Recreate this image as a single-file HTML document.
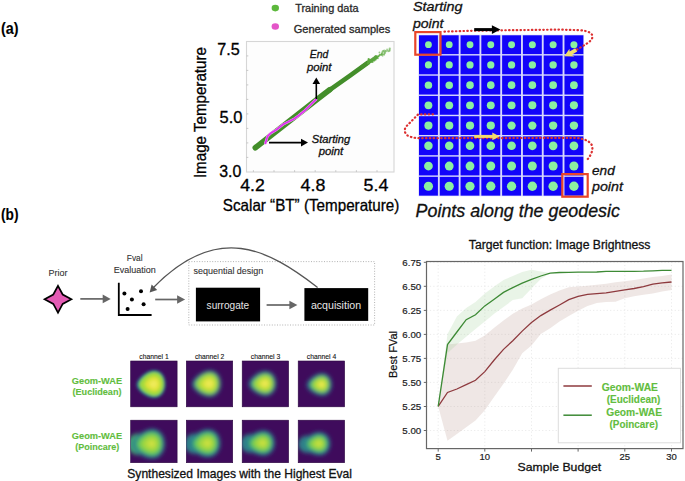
<!DOCTYPE html><html><head><meta charset="utf-8"><style>html,body{margin:0;padding:0;background:#fff;}svg{display:block;}text{font-family:"Liberation Sans", sans-serif;}</style></head><body>
<svg width="685" height="481" viewBox="0 0 685 481">
<defs>
<filter id="b06" x="-50%" y="-50%" width="200%" height="200%"><feGaussianBlur stdDeviation="0.75"/></filter>
<filter id="b1" x="-50%" y="-50%" width="200%" height="200%"><feGaussianBlur stdDeviation="1.8"/></filter>
<filter id="b2" x="-50%" y="-50%" width="200%" height="200%"><feGaussianBlur stdDeviation="2.2"/></filter>
<radialGradient id="dot"><stop offset="0" stop-color="#a8fca8"/><stop offset="0.55" stop-color="#86eea0"/><stop offset="0.85" stop-color="#5aa8d8"/><stop offset="1" stop-color="#1a1aff" stop-opacity="0"/></radialGradient>
<radialGradient id="blob" cx="0.5" cy="0.5" r="0.5"><stop offset="0" stop-color="#ecec48"/><stop offset="0.55" stop-color="#c8e040"/><stop offset="0.85" stop-color="#70cc5c"/><stop offset="1" stop-color="#3fb070"/></radialGradient>
<marker id="ah" viewBox="0 0 10 10" refX="8" refY="5" markerWidth="6" markerHeight="6" orient="auto"><path d="M0,0 L10,5 L0,10 z" fill="#000"/></marker>
</defs>
<text x="1" y="34.2" font-size="16" fill="#000" stroke="#000" stroke-width="0.12" font-weight="bold" font-style="normal" text-anchor="start" textLength="17.5" lengthAdjust="spacingAndGlyphs" >(a)</text>
<text x="1" y="220" font-size="16" fill="#000" stroke="#000" stroke-width="0.12" font-weight="bold" font-style="normal" text-anchor="start" textLength="17.5" lengthAdjust="spacingAndGlyphs" >(b)</text>
<ellipse cx="275.3" cy="8.1" rx="3.7" ry="3.3" fill="#5cb83c"/>
<ellipse cx="275.3" cy="26.5" rx="3.7" ry="3.3" fill="#e455c8"/>
<text x="295.2" y="11.6" font-size="10.5" fill="#2a2a2a" stroke="#2a2a2a" stroke-width="0.3" font-weight="normal" font-style="normal" text-anchor="start" textLength="63.3" lengthAdjust="spacingAndGlyphs" >Training data</text>
<text x="293.7" y="32.5" font-size="10.5" fill="#2a2a2a" stroke="#2a2a2a" stroke-width="0.3" font-weight="normal" font-style="normal" text-anchor="start" textLength="96.5" lengthAdjust="spacingAndGlyphs" >Generated samples</text>
<rect x="246.5" y="41.5" width="147.5" height="130.5" fill="#fdfdfd" stroke="#d6d6d6" stroke-width="1.1"/>
<line x1="246.5" y1="55.9" x2="248.3" y2="55.9" stroke="#bbb" stroke-width="0.8"/>
<line x1="246.5" y1="70.4" x2="248.3" y2="70.4" stroke="#bbb" stroke-width="0.8"/>
<line x1="246.5" y1="84.9" x2="248.3" y2="84.9" stroke="#bbb" stroke-width="0.8"/>
<line x1="246.5" y1="99.4" x2="248.3" y2="99.4" stroke="#bbb" stroke-width="0.8"/>
<line x1="246.5" y1="113.9" x2="248.3" y2="113.9" stroke="#bbb" stroke-width="0.8"/>
<line x1="246.5" y1="128.4" x2="248.3" y2="128.4" stroke="#bbb" stroke-width="0.8"/>
<line x1="246.5" y1="142.9" x2="248.3" y2="142.9" stroke="#bbb" stroke-width="0.8"/>
<line x1="246.5" y1="157.4" x2="248.3" y2="157.4" stroke="#bbb" stroke-width="0.8"/>
<line x1="253.4" y1="171.9" x2="253.4" y2="170.2" stroke="#bbb" stroke-width="0.8"/>
<line x1="274" y1="171.9" x2="274" y2="170.2" stroke="#bbb" stroke-width="0.8"/>
<line x1="294.6" y1="171.9" x2="294.6" y2="170.2" stroke="#bbb" stroke-width="0.8"/>
<line x1="315.2" y1="171.9" x2="315.2" y2="170.2" stroke="#bbb" stroke-width="0.8"/>
<line x1="335.8" y1="171.9" x2="335.8" y2="170.2" stroke="#bbb" stroke-width="0.8"/>
<line x1="356.4" y1="171.9" x2="356.4" y2="170.2" stroke="#bbb" stroke-width="0.8"/>
<line x1="377" y1="171.9" x2="377" y2="170.2" stroke="#bbb" stroke-width="0.8"/>
<text x="228.5" y="54.7" font-size="16.5" fill="#000" stroke="#000" stroke-width="0.3" font-weight="normal" font-style="normal" text-anchor="middle" textLength="22.5" lengthAdjust="spacingAndGlyphs" >7.5</text>
<text x="231" y="123.2" font-size="16.5" fill="#000" stroke="#000" stroke-width="0.3" font-weight="normal" font-style="normal" text-anchor="middle" textLength="22.9" lengthAdjust="spacingAndGlyphs" >5.0</text>
<text x="230.2" y="176.5" font-size="16.5" fill="#000" stroke="#000" stroke-width="0.3" font-weight="normal" font-style="normal" text-anchor="middle" textLength="22.1" lengthAdjust="spacingAndGlyphs" >3.0</text>
<text x="252.5" y="191.1" font-size="16.5" fill="#000" stroke="#000" stroke-width="0.3" font-weight="normal" font-style="normal" text-anchor="middle" textLength="24.5" lengthAdjust="spacingAndGlyphs" >4.2</text>
<text x="313" y="191.1" font-size="16.5" fill="#000" stroke="#000" stroke-width="0.3" font-weight="normal" font-style="normal" text-anchor="middle" textLength="24.8" lengthAdjust="spacingAndGlyphs" >4.8</text>
<text x="376" y="191.1" font-size="16.5" fill="#000" stroke="#000" stroke-width="0.3" font-weight="normal" font-style="normal" text-anchor="middle" textLength="24.8" lengthAdjust="spacingAndGlyphs" >5.4</text>
<text x="222.8" y="211.1" font-size="16.5" fill="#000" stroke="#000" stroke-width="0.3" font-weight="normal" font-style="normal" text-anchor="start" textLength="176.6" lengthAdjust="spacingAndGlyphs" >Scalar “BT” (Temperature)</text>
<text x="0" y="0" font-size="16" text-anchor="start" textLength="131" lengthAdjust="spacingAndGlyphs" stroke="#000" stroke-width="0.3" transform="translate(206.4,178.1) rotate(-90)">Image Temperature</text>
<path d="M255.3,147.7 L285,124.5 L316,100.2 L330,89.6" stroke="#438e2a" stroke-width="5.6" stroke-linecap="round" stroke-linejoin="round" fill="none"/>
<path d="M328,91.1 L350,75.6 L368,62.6" stroke="#438e2a" stroke-width="4.6" stroke-linecap="round" stroke-linejoin="round" fill="none"/>
<path d="M362,66.8 L376,57.2" stroke="#4a922e" stroke-width="3.6" stroke-linecap="round" fill="none" opacity="0.85"/>
<circle cx="381.7" cy="54.3" r="1.2" fill="#5aa83c" opacity="0.54"/>
<circle cx="384.3" cy="50.6" r="1.2" fill="#5aa83c" opacity="0.48"/>
<circle cx="368.6" cy="59.1" r="1.0" fill="#5aa83c" opacity="0.84"/>
<circle cx="387.8" cy="51.5" r="0.7" fill="#5aa83c" opacity="0.40"/>
<circle cx="378.3" cy="56.4" r="0.9" fill="#5aa83c" opacity="0.62"/>
<circle cx="368.3" cy="64.0" r="0.7" fill="#5aa83c" opacity="0.84"/>
<circle cx="374.1" cy="60.8" r="0.7" fill="#5aa83c" opacity="0.71"/>
<circle cx="385.5" cy="51.0" r="0.7" fill="#5aa83c" opacity="0.45"/>
<circle cx="381.6" cy="54.5" r="1.1" fill="#5aa83c" opacity="0.54"/>
<circle cx="372.6" cy="59.8" r="0.7" fill="#5aa83c" opacity="0.75"/>
<circle cx="389.6" cy="50.5" r="1.2" fill="#5aa83c" opacity="0.36"/>
<circle cx="379.9" cy="54.7" r="1.0" fill="#5aa83c" opacity="0.58"/>
<circle cx="372.5" cy="61.7" r="1.2" fill="#5aa83c" opacity="0.75"/>
<circle cx="387.7" cy="50.2" r="0.8" fill="#5aa83c" opacity="0.40"/>
<circle cx="375.9" cy="58.2" r="0.6" fill="#5aa83c" opacity="0.67"/>
<circle cx="374.6" cy="59.2" r="1.0" fill="#5aa83c" opacity="0.70"/>
<circle cx="368.1" cy="61.9" r="0.8" fill="#5aa83c" opacity="0.85"/>
<circle cx="386.0" cy="50.8" r="0.9" fill="#5aa83c" opacity="0.44"/>
<circle cx="374.9" cy="56.4" r="0.6" fill="#5aa83c" opacity="0.69"/>
<circle cx="389.5" cy="50.1" r="0.6" fill="#5aa83c" opacity="0.36"/>
<circle cx="384.5" cy="52.9" r="1.1" fill="#5aa83c" opacity="0.48"/>
<circle cx="376.1" cy="57.5" r="0.9" fill="#5aa83c" opacity="0.67"/>
<circle cx="368.2" cy="63.2" r="1.2" fill="#5aa83c" opacity="0.85"/>
<circle cx="372.3" cy="60.2" r="1.1" fill="#5aa83c" opacity="0.75"/>
<circle cx="388.5" cy="51.5" r="0.8" fill="#5aa83c" opacity="0.39"/>
<circle cx="379.5" cy="55.3" r="1.1" fill="#5aa83c" opacity="0.59"/>
<circle cx="370.4" cy="61.1" r="1.1" fill="#5aa83c" opacity="0.80"/>
<circle cx="368.8" cy="59.7" r="1.2" fill="#5aa83c" opacity="0.83"/>
<circle cx="370.0" cy="60.4" r="1.2" fill="#5aa83c" opacity="0.80"/>
<circle cx="375.5" cy="59.6" r="1.2" fill="#5aa83c" opacity="0.68"/>
<circle cx="380.0" cy="55.0" r="0.7" fill="#5aa83c" opacity="0.58"/>
<circle cx="369.7" cy="62.5" r="0.7" fill="#5aa83c" opacity="0.81"/>
<circle cx="383.2" cy="54.3" r="0.6" fill="#5aa83c" opacity="0.51"/>
<circle cx="389.7" cy="49.7" r="0.9" fill="#5aa83c" opacity="0.36"/>
<circle cx="376.9" cy="57.4" r="1.1" fill="#5aa83c" opacity="0.65"/>
<circle cx="378.0" cy="58.3" r="0.9" fill="#5aa83c" opacity="0.62"/>
<circle cx="369.2" cy="62.1" r="0.9" fill="#5aa83c" opacity="0.82"/>
<circle cx="386.4" cy="51.4" r="0.7" fill="#5aa83c" opacity="0.43"/>
<circle cx="384.1" cy="54.7" r="1.1" fill="#5aa83c" opacity="0.48"/>
<circle cx="370.3" cy="60.5" r="0.9" fill="#5aa83c" opacity="0.80"/>
<circle cx="371.3" cy="61.2" r="0.9" fill="#5aa83c" opacity="0.78"/>
<circle cx="390.0" cy="48.6" r="1.1" fill="#5aa83c" opacity="0.35"/>
<circle cx="389.5" cy="48.4" r="1.0" fill="#5aa83c" opacity="0.36"/>
<circle cx="378.5" cy="56.7" r="0.8" fill="#5aa83c" opacity="0.61"/>
<circle cx="376.9" cy="58.0" r="1.2" fill="#5aa83c" opacity="0.65"/>
<circle cx="389.1" cy="51.0" r="1.0" fill="#5aa83c" opacity="0.37"/>
<circle cx="379.0" cy="55.7" r="0.8" fill="#5aa83c" opacity="0.60"/>
<circle cx="385.2" cy="52.8" r="1.1" fill="#5aa83c" opacity="0.46"/>
<circle cx="375.9" cy="58.3" r="1.0" fill="#5aa83c" opacity="0.67"/>
<circle cx="382.6" cy="51.7" r="1.1" fill="#5aa83c" opacity="0.52"/>
<circle cx="376.0" cy="57.5" r="0.9" fill="#5aa83c" opacity="0.67"/>
<circle cx="384.9" cy="51.5" r="1.0" fill="#5aa83c" opacity="0.47"/>
<circle cx="374.5" cy="60.5" r="0.9" fill="#5aa83c" opacity="0.70"/>
<circle cx="368.3" cy="61.7" r="0.9" fill="#5aa83c" opacity="0.84"/>
<circle cx="373.5" cy="58.6" r="1.1" fill="#5aa83c" opacity="0.72"/>
<circle cx="382.2" cy="52.8" r="1.1" fill="#5aa83c" opacity="0.53"/>
<circle cx="375.7" cy="56.7" r="1.1" fill="#5aa83c" opacity="0.68"/>
<circle cx="375.7" cy="56.3" r="1.1" fill="#5aa83c" opacity="0.67"/>
<circle cx="387.1" cy="49.8" r="1.2" fill="#5aa83c" opacity="0.42"/>
<circle cx="379.4" cy="52.5" r="0.9" fill="#5aa83c" opacity="0.59"/>
<circle cx="371.7" cy="61.9" r="0.9" fill="#5aa83c" opacity="0.77"/>
<circle cx="383.2" cy="50.9" r="1.0" fill="#5aa83c" opacity="0.50"/>
<circle cx="384.1" cy="54.1" r="0.9" fill="#5aa83c" opacity="0.48"/>
<circle cx="382.6" cy="55.8" r="0.9" fill="#5aa83c" opacity="0.52"/>
<circle cx="381.7" cy="54.7" r="1.0" fill="#5aa83c" opacity="0.54"/>
<circle cx="368.6" cy="60.3" r="0.7" fill="#5aa83c" opacity="0.84"/>
<circle cx="377.7" cy="56.2" r="1.0" fill="#5aa83c" opacity="0.63"/>
<circle cx="381.9" cy="53.6" r="0.6" fill="#5aa83c" opacity="0.53"/>
<circle cx="378.4" cy="56.4" r="0.7" fill="#5aa83c" opacity="0.61"/>
<circle cx="375.0" cy="58.8" r="0.7" fill="#5aa83c" opacity="0.69"/>
<path d="M265.4,143.2 L267.5,136.4 L270.6,133.3 L275.8,130.2 L283.1,124.4 L289.3,121.3 L293.5,119.2 L298.7,115.6 L304.9,110.4 L313.2,102.1 L316,99.5" stroke="#f2a8f2" stroke-width="2.6" fill="none" stroke-linejoin="round" stroke-linecap="round"/>
<path d="M265.4,143.2 L267.5,136.4 L270.6,133.3 L275.8,130.2 L283.1,124.4 L289.3,121.3 L293.5,119.2 L298.7,115.6 L304.9,110.4 L313.2,102.1 L316,99.5" stroke="#dd33ee" stroke-width="1.8" fill="none" stroke-linejoin="round" stroke-linecap="round"/>
<line x1="316.3" y1="99" x2="316.3" y2="83" stroke="#000" stroke-width="1.6"/>
<path d="M312.5,84 L316.3,77.5 L320.1,84 z" fill="#000"/>
<line x1="269" y1="142.6" x2="302" y2="142.6" stroke="#000" stroke-width="1.6"/>
<path d="M301,138.8 L308,142.6 L301,146.4 z" fill="#000"/>
<text x="319" y="57.8" font-size="10.5" fill="#111" stroke="#111" stroke-width="0.3" font-weight="normal" font-style="italic" text-anchor="middle" textLength="18.5" lengthAdjust="spacingAndGlyphs" >End</text>
<text x="319.2" y="70.7" font-size="10.5" fill="#111" stroke="#111" stroke-width="0.3" font-weight="normal" font-style="italic" text-anchor="middle" textLength="24.6" lengthAdjust="spacingAndGlyphs" >point</text>
<text x="311.8" y="143.4" font-size="10.5" fill="#111" stroke="#111" stroke-width="0.3" font-weight="normal" font-style="italic" text-anchor="start" textLength="38.4" lengthAdjust="spacingAndGlyphs" >Starting</text>
<text x="318.7" y="155.2" font-size="10.5" fill="#111" stroke="#111" stroke-width="0.3" font-weight="normal" font-style="italic" text-anchor="start" textLength="24.6" lengthAdjust="spacingAndGlyphs" >point</text>
<rect x="418.4" y="34.699999999999996" width="165.56" height="161.54" fill="#d8d8fc"/>
<rect x="419.00" y="35.30" width="18.9" height="18.8" fill="#1204fa"/>
<rect x="439.78" y="35.30" width="18.9" height="18.8" fill="#1204fa"/>
<rect x="460.56" y="35.30" width="18.9" height="18.8" fill="#1204fa"/>
<rect x="481.34" y="35.30" width="18.9" height="18.8" fill="#1204fa"/>
<rect x="502.12" y="35.30" width="18.9" height="18.8" fill="#1204fa"/>
<rect x="522.90" y="35.30" width="18.9" height="18.8" fill="#1204fa"/>
<rect x="543.68" y="35.30" width="18.9" height="18.8" fill="#1204fa"/>
<rect x="564.46" y="35.30" width="18.9" height="18.8" fill="#1204fa"/>
<rect x="419.00" y="55.52" width="18.9" height="18.8" fill="#1204fa"/>
<rect x="439.78" y="55.52" width="18.9" height="18.8" fill="#1204fa"/>
<rect x="460.56" y="55.52" width="18.9" height="18.8" fill="#1204fa"/>
<rect x="481.34" y="55.52" width="18.9" height="18.8" fill="#1204fa"/>
<rect x="502.12" y="55.52" width="18.9" height="18.8" fill="#1204fa"/>
<rect x="522.90" y="55.52" width="18.9" height="18.8" fill="#1204fa"/>
<rect x="543.68" y="55.52" width="18.9" height="18.8" fill="#1204fa"/>
<rect x="564.46" y="55.52" width="18.9" height="18.8" fill="#1204fa"/>
<rect x="419.00" y="75.74" width="18.9" height="18.8" fill="#1204fa"/>
<rect x="439.78" y="75.74" width="18.9" height="18.8" fill="#1204fa"/>
<rect x="460.56" y="75.74" width="18.9" height="18.8" fill="#1204fa"/>
<rect x="481.34" y="75.74" width="18.9" height="18.8" fill="#1204fa"/>
<rect x="502.12" y="75.74" width="18.9" height="18.8" fill="#1204fa"/>
<rect x="522.90" y="75.74" width="18.9" height="18.8" fill="#1204fa"/>
<rect x="543.68" y="75.74" width="18.9" height="18.8" fill="#1204fa"/>
<rect x="564.46" y="75.74" width="18.9" height="18.8" fill="#1204fa"/>
<rect x="419.00" y="95.96" width="18.9" height="18.8" fill="#1204fa"/>
<rect x="439.78" y="95.96" width="18.9" height="18.8" fill="#1204fa"/>
<rect x="460.56" y="95.96" width="18.9" height="18.8" fill="#1204fa"/>
<rect x="481.34" y="95.96" width="18.9" height="18.8" fill="#1204fa"/>
<rect x="502.12" y="95.96" width="18.9" height="18.8" fill="#1204fa"/>
<rect x="522.90" y="95.96" width="18.9" height="18.8" fill="#1204fa"/>
<rect x="543.68" y="95.96" width="18.9" height="18.8" fill="#1204fa"/>
<rect x="564.46" y="95.96" width="18.9" height="18.8" fill="#1204fa"/>
<rect x="419.00" y="116.18" width="18.9" height="18.8" fill="#1204fa"/>
<rect x="439.78" y="116.18" width="18.9" height="18.8" fill="#1204fa"/>
<rect x="460.56" y="116.18" width="18.9" height="18.8" fill="#1204fa"/>
<rect x="481.34" y="116.18" width="18.9" height="18.8" fill="#1204fa"/>
<rect x="502.12" y="116.18" width="18.9" height="18.8" fill="#1204fa"/>
<rect x="522.90" y="116.18" width="18.9" height="18.8" fill="#1204fa"/>
<rect x="543.68" y="116.18" width="18.9" height="18.8" fill="#1204fa"/>
<rect x="564.46" y="116.18" width="18.9" height="18.8" fill="#1204fa"/>
<rect x="419.00" y="136.40" width="18.9" height="18.8" fill="#1204fa"/>
<rect x="439.78" y="136.40" width="18.9" height="18.8" fill="#1204fa"/>
<rect x="460.56" y="136.40" width="18.9" height="18.8" fill="#1204fa"/>
<rect x="481.34" y="136.40" width="18.9" height="18.8" fill="#1204fa"/>
<rect x="502.12" y="136.40" width="18.9" height="18.8" fill="#1204fa"/>
<rect x="522.90" y="136.40" width="18.9" height="18.8" fill="#1204fa"/>
<rect x="543.68" y="136.40" width="18.9" height="18.8" fill="#1204fa"/>
<rect x="564.46" y="136.40" width="18.9" height="18.8" fill="#1204fa"/>
<rect x="419.00" y="156.62" width="18.9" height="18.8" fill="#1204fa"/>
<rect x="439.78" y="156.62" width="18.9" height="18.8" fill="#1204fa"/>
<rect x="460.56" y="156.62" width="18.9" height="18.8" fill="#1204fa"/>
<rect x="481.34" y="156.62" width="18.9" height="18.8" fill="#1204fa"/>
<rect x="502.12" y="156.62" width="18.9" height="18.8" fill="#1204fa"/>
<rect x="522.90" y="156.62" width="18.9" height="18.8" fill="#1204fa"/>
<rect x="543.68" y="156.62" width="18.9" height="18.8" fill="#1204fa"/>
<rect x="564.46" y="156.62" width="18.9" height="18.8" fill="#1204fa"/>
<rect x="419.00" y="176.84" width="18.9" height="18.8" fill="#1204fa"/>
<rect x="439.78" y="176.84" width="18.9" height="18.8" fill="#1204fa"/>
<rect x="460.56" y="176.84" width="18.9" height="18.8" fill="#1204fa"/>
<rect x="481.34" y="176.84" width="18.9" height="18.8" fill="#1204fa"/>
<rect x="502.12" y="176.84" width="18.9" height="18.8" fill="#1204fa"/>
<rect x="522.90" y="176.84" width="18.9" height="18.8" fill="#1204fa"/>
<rect x="543.68" y="176.84" width="18.9" height="18.8" fill="#1204fa"/>
<rect x="564.46" y="176.84" width="18.9" height="18.8" fill="#1204fa"/>
<circle cx="428.45" cy="44.70" r="3.40" fill="#8cf0a0" filter="url(#b06)"/>
<circle cx="449.23" cy="44.70" r="3.42" fill="#8cf0a0" filter="url(#b06)"/>
<circle cx="470.01" cy="44.70" r="3.44" fill="#8cf0a0" filter="url(#b06)"/>
<circle cx="490.79" cy="44.70" r="3.46" fill="#8cf0a0" filter="url(#b06)"/>
<circle cx="511.57" cy="44.70" r="3.48" fill="#8cf0a0" filter="url(#b06)"/>
<circle cx="532.35" cy="44.70" r="3.50" fill="#8cf0a0" filter="url(#b06)"/>
<circle cx="553.13" cy="44.70" r="3.52" fill="#8cf0a0" filter="url(#b06)"/>
<circle cx="573.91" cy="44.70" r="3.54" fill="#8cf0a0" filter="url(#b06)"/>
<circle cx="428.45" cy="64.92" r="3.57" fill="#8cf0a0" filter="url(#b06)"/>
<circle cx="449.23" cy="64.92" r="3.59" fill="#8cf0a0" filter="url(#b06)"/>
<circle cx="470.01" cy="64.92" r="3.61" fill="#8cf0a0" filter="url(#b06)"/>
<circle cx="490.79" cy="64.92" r="3.63" fill="#8cf0a0" filter="url(#b06)"/>
<circle cx="511.57" cy="64.92" r="3.65" fill="#8cf0a0" filter="url(#b06)"/>
<circle cx="532.35" cy="64.92" r="3.67" fill="#8cf0a0" filter="url(#b06)"/>
<circle cx="553.13" cy="64.92" r="3.69" fill="#8cf0a0" filter="url(#b06)"/>
<circle cx="573.91" cy="64.92" r="3.71" fill="#8cf0a0" filter="url(#b06)"/>
<circle cx="428.45" cy="85.14" r="3.73" fill="#8cf0a0" filter="url(#b06)"/>
<circle cx="449.23" cy="85.14" r="3.75" fill="#8cf0a0" filter="url(#b06)"/>
<circle cx="470.01" cy="85.14" r="3.77" fill="#8cf0a0" filter="url(#b06)"/>
<circle cx="490.79" cy="85.14" r="3.79" fill="#8cf0a0" filter="url(#b06)"/>
<circle cx="511.57" cy="85.14" r="3.81" fill="#8cf0a0" filter="url(#b06)"/>
<circle cx="532.35" cy="85.14" r="3.83" fill="#8cf0a0" filter="url(#b06)"/>
<circle cx="553.13" cy="85.14" r="3.85" fill="#8cf0a0" filter="url(#b06)"/>
<circle cx="573.91" cy="85.14" r="3.87" fill="#8cf0a0" filter="url(#b06)"/>
<circle cx="428.45" cy="105.36" r="3.90" fill="#8cf0a0" filter="url(#b06)"/>
<circle cx="449.23" cy="105.36" r="3.92" fill="#8cf0a0" filter="url(#b06)"/>
<circle cx="470.01" cy="105.36" r="3.94" fill="#8cf0a0" filter="url(#b06)"/>
<circle cx="490.79" cy="105.36" r="3.96" fill="#8cf0a0" filter="url(#b06)"/>
<circle cx="511.57" cy="105.36" r="3.98" fill="#8cf0a0" filter="url(#b06)"/>
<circle cx="532.35" cy="105.36" r="4.00" fill="#8cf0a0" filter="url(#b06)"/>
<circle cx="553.13" cy="105.36" r="4.02" fill="#8cf0a0" filter="url(#b06)"/>
<circle cx="573.91" cy="105.36" r="4.04" fill="#8cf0a0" filter="url(#b06)"/>
<circle cx="428.45" cy="125.58" r="4.06" fill="#8cf0a0" filter="url(#b06)"/>
<circle cx="449.23" cy="125.58" r="4.08" fill="#8cf0a0" filter="url(#b06)"/>
<circle cx="470.01" cy="125.58" r="4.10" fill="#8cf0a0" filter="url(#b06)"/>
<circle cx="490.79" cy="125.58" r="4.12" fill="#8cf0a0" filter="url(#b06)"/>
<circle cx="511.57" cy="125.58" r="4.14" fill="#8cf0a0" filter="url(#b06)"/>
<circle cx="532.35" cy="125.58" r="4.16" fill="#8cf0a0" filter="url(#b06)"/>
<circle cx="553.13" cy="125.58" r="4.18" fill="#8cf0a0" filter="url(#b06)"/>
<circle cx="573.91" cy="125.58" r="4.20" fill="#8cf0a0" filter="url(#b06)"/>
<circle cx="428.45" cy="145.80" r="4.23" fill="#8cf0a0" filter="url(#b06)"/>
<circle cx="449.23" cy="145.80" r="4.25" fill="#8cf0a0" filter="url(#b06)"/>
<circle cx="470.01" cy="145.80" r="4.27" fill="#8cf0a0" filter="url(#b06)"/>
<circle cx="490.79" cy="145.80" r="4.29" fill="#8cf0a0" filter="url(#b06)"/>
<circle cx="511.57" cy="145.80" r="4.31" fill="#8cf0a0" filter="url(#b06)"/>
<circle cx="532.35" cy="145.80" r="4.33" fill="#8cf0a0" filter="url(#b06)"/>
<circle cx="553.13" cy="145.80" r="4.35" fill="#8cf0a0" filter="url(#b06)"/>
<circle cx="573.91" cy="145.80" r="4.37" fill="#8cf0a0" filter="url(#b06)"/>
<circle cx="428.45" cy="166.02" r="4.39" fill="#8cf0a0" filter="url(#b06)"/>
<circle cx="449.23" cy="166.02" r="4.41" fill="#8cf0a0" filter="url(#b06)"/>
<circle cx="470.01" cy="166.02" r="4.43" fill="#8cf0a0" filter="url(#b06)"/>
<circle cx="490.79" cy="166.02" r="4.45" fill="#8cf0a0" filter="url(#b06)"/>
<circle cx="511.57" cy="166.02" r="4.47" fill="#8cf0a0" filter="url(#b06)"/>
<circle cx="532.35" cy="166.02" r="4.49" fill="#8cf0a0" filter="url(#b06)"/>
<circle cx="553.13" cy="166.02" r="4.51" fill="#8cf0a0" filter="url(#b06)"/>
<circle cx="573.91" cy="166.02" r="4.53" fill="#8cf0a0" filter="url(#b06)"/>
<circle cx="428.45" cy="186.24" r="4.56" fill="#8cf0a0" filter="url(#b06)"/>
<circle cx="449.23" cy="186.24" r="4.58" fill="#8cf0a0" filter="url(#b06)"/>
<circle cx="470.01" cy="186.24" r="4.60" fill="#8cf0a0" filter="url(#b06)"/>
<circle cx="490.79" cy="186.24" r="4.62" fill="#8cf0a0" filter="url(#b06)"/>
<circle cx="511.57" cy="186.24" r="4.64" fill="#8cf0a0" filter="url(#b06)"/>
<circle cx="532.35" cy="186.24" r="4.66" fill="#8cf0a0" filter="url(#b06)"/>
<circle cx="553.13" cy="186.24" r="4.68" fill="#8cf0a0" filter="url(#b06)"/>
<circle cx="573.91" cy="186.24" r="4.70" fill="#8cf0a0" filter="url(#b06)"/>
<rect x="415.3" y="32.1" width="25.2" height="22.6" fill="none" stroke="#e8452a" stroke-width="2.2"/>
<rect x="562.3" y="174.1" width="25.4" height="22.6" fill="none" stroke="#e8452a" stroke-width="2.2"/>
<path d="M444.5,31.6 L470,30.8 L510,30.2 L560,29.6 L580,30.2 C589,31 593,33.5 592.4,37.3 C591.5,42 584,45 575.6,50.4" stroke="#dc3030" stroke-width="2.2" stroke-dasharray="0.5,3.3" stroke-linecap="round" fill="none"/>
<path d="M433,114.3 L418,114.5 L406.2,126.5 C403.5,130 404.5,135 410.5,136.8 C413,137.6 415.5,138 418.1,138.2 L576,137.9 C586,138.8 592.5,142.5 592.4,148 C592.3,153 589.5,157 587.3,159.6" stroke="#dc3030" stroke-width="2.2" stroke-dasharray="0.5,3.3" stroke-linecap="round" fill="none"/>
<line x1="474.2" y1="29.6" x2="493" y2="29.6" stroke="#000" stroke-width="3"/>
<path d="M491.9,25.2 L500.4,29.6 L491.9,34 z" fill="#000"/>
<line x1="474.2" y1="136.4" x2="493" y2="136.4" stroke="#f2dc6c" stroke-width="3"/>
<path d="M492.3,132.6 L499.6,136.4 L492.3,140.2 z" fill="#f2dc6c"/>
<path d="M564.3,56.2 L569.5,48.8 L569.6,51.6 L575.2,48.2 L577.2,51.6 L571.8,54.8 L574.2,56.4 z" fill="#f2dc6c"/>
<text x="412.9" y="11.4" font-size="13.5" fill="#111" stroke="#111" stroke-width="0.3" font-weight="normal" font-style="italic" text-anchor="start" textLength="49.6" lengthAdjust="spacingAndGlyphs" >Starting</text>
<text x="412.9" y="27.9" font-size="13.5" fill="#111" stroke="#111" stroke-width="0.3" font-weight="normal" font-style="italic" text-anchor="start" textLength="30.6" lengthAdjust="spacingAndGlyphs" >point</text>
<text x="592" y="174.9" font-size="13.5" fill="#111" stroke="#111" stroke-width="0.3" font-weight="normal" font-style="italic" text-anchor="start" textLength="22.7" lengthAdjust="spacingAndGlyphs" >end</text>
<text x="592" y="191.4" font-size="13.5" fill="#111" stroke="#111" stroke-width="0.3" font-weight="normal" font-style="italic" text-anchor="start" textLength="30.9" lengthAdjust="spacingAndGlyphs" >point</text>
<text x="415.6" y="216.7" font-size="17.6" fill="#111" stroke="#111" stroke-width="0.3" font-weight="normal" font-style="italic" text-anchor="start" textLength="204.3" lengthAdjust="spacingAndGlyphs" >Points along the geodesic</text>
<text x="48.5" y="276" font-size="9" fill="#333" stroke="#333" stroke-width="0.1" font-weight="normal" font-style="normal" text-anchor="start" textLength="18.9" lengthAdjust="spacingAndGlyphs" >Prior</text>
<path d="M58,285.8 L62.7,294.5 L71.4,299.2 L62.7,303.9 L58,312.59999999999997 L53.3,303.9 L44.6,299.2 L53.3,294.5 z" fill="#e35bb4" stroke="#000" stroke-width="1.7" stroke-linejoin="miter" stroke-miterlimit="10"/>
<line x1="80.3" y1="298.9" x2="104.7" y2="298.9" stroke="#666" stroke-width="1.7"/>
<path d="M102.7,294.59999999999997 L110.7,298.9 L102.7,303.2 z" fill="#666"/>
<line x1="155.2" y1="299.5" x2="179.1" y2="299.5" stroke="#666" stroke-width="1.7"/>
<path d="M177.1,295.2 L185.1,299.5 L177.1,303.8 z" fill="#666"/>
<line x1="266.6" y1="305" x2="291.4" y2="305" stroke="#666" stroke-width="1.7"/>
<path d="M289.4,300.7 L297.4,305 L289.4,309.3 z" fill="#666"/>
<text x="134.7" y="260.9" font-size="9" fill="#333" stroke="#333" stroke-width="0.1" font-weight="normal" font-style="normal" text-anchor="middle" textLength="15.8" lengthAdjust="spacingAndGlyphs" >Fval</text>
<text x="134.7" y="272.6" font-size="9" fill="#333" stroke="#333" stroke-width="0.1" font-weight="normal" font-style="normal" text-anchor="middle" textLength="42" lengthAdjust="spacingAndGlyphs" >Evaluation</text>
<path d="M118.8,282.8 L118.8,315 L151.6,315" stroke="#000" stroke-width="1.8" fill="none"/>
<circle cx="124.4" cy="293.4" r="2.0" fill="#000"/>
<circle cx="141" cy="291.2" r="2.0" fill="#000"/>
<circle cx="131.9" cy="299.5" r="2.0" fill="#000"/>
<circle cx="143.6" cy="304.2" r="2.0" fill="#000"/>
<circle cx="127.6" cy="309" r="2.0" fill="#000"/>
<rect x="188.8" y="261.6" width="185.8" height="63.4" fill="none" stroke="#aaa" stroke-width="0.9" stroke-dasharray="1,1.6"/>
<text x="193.5" y="274" font-size="9.3" fill="#333" stroke="#333" stroke-width="0.1" font-weight="normal" font-style="normal" text-anchor="start" textLength="69.8" lengthAdjust="spacingAndGlyphs" >sequential design</text>
<rect x="195.9" y="287.7" width="64.2" height="33.7" fill="#000"/>
<rect x="304.4" y="288.1" width="63.8" height="32.8" fill="#000"/>
<text x="227.9" y="309.2" font-size="11" fill="#e6e6e6" font-weight="normal" font-style="normal" text-anchor="middle" textLength="42.6" lengthAdjust="spacingAndGlyphs" >surrogate</text>
<text x="336" y="309.2" font-size="11" fill="#e6e6e6" font-weight="normal" font-style="normal" text-anchor="middle" textLength="50.2" lengthAdjust="spacingAndGlyphs" >acquisition</text>
<path d="M317.6,287.4 C268.3,249.4 217.4,221.5 153,288" stroke="#555" stroke-width="1.3" fill="none"/>
<path d="M149.6,292.4 L151.6,284.6 L157.2,290.0 z" fill="#555"/>
<text x="154.0" y="359.0" font-size="6.8" fill="#111" stroke="#111" stroke-width="0.1" font-weight="normal" font-style="normal" text-anchor="middle" textLength="29.4" lengthAdjust="spacingAndGlyphs" >channel 1</text>
<text x="209.60000000000002" y="359.0" font-size="6.8" fill="#111" stroke="#111" stroke-width="0.1" font-weight="normal" font-style="normal" text-anchor="middle" textLength="29.4" lengthAdjust="spacingAndGlyphs" >channel 2</text>
<text x="265.5" y="359.0" font-size="6.8" fill="#111" stroke="#111" stroke-width="0.1" font-weight="normal" font-style="normal" text-anchor="middle" textLength="29.4" lengthAdjust="spacingAndGlyphs" >channel 3</text>
<text x="321.5" y="359.0" font-size="6.8" fill="#111" stroke="#111" stroke-width="0.1" font-weight="normal" font-style="normal" text-anchor="middle" textLength="29.4" lengthAdjust="spacingAndGlyphs" >channel 4</text>
<rect x="130.7" y="361.0" width="46.4" height="45.8" fill="#3f0b5c" stroke="#2c0840" stroke-width="0.6"/>
<clipPath id="cp00"><rect x="130.7" y="361.0" width="46.4" height="45.8"/></clipPath>
<filter id="bf00" x="-50%" y="-50%" width="200%" height="200%"><feGaussianBlur stdDeviation="1.8"/></filter>
<g clip-path="url(#cp00)"><g filter="url(#bf00)">
<path d="M136.40,384.70 C136.40,379.10 145.89,370.70 153.19,370.00 C160.49,369.30 165.60,375.60 165.60,384.00 C165.60,392.40 160.49,398.70 153.19,398.00 C145.89,397.30 136.40,390.30 136.40,384.70 z" fill="#2f6b8e"/>
<path d="M137.65,384.65 C137.65,379.44 146.47,371.63 153.26,370.98 C160.05,370.33 164.80,376.19 164.80,384.00 C164.80,391.81 160.05,397.67 153.26,397.02 C146.47,396.37 137.65,389.86 137.65,384.65 z" fill="#2a9a86"/>
<path d="M138.90,384.60 C138.90,379.79 147.06,372.56 153.34,371.96 C159.62,371.36 164.01,376.78 164.01,384.00 C164.01,391.22 159.62,396.64 153.34,396.04 C147.06,395.44 138.90,389.42 138.90,384.60 z" fill="#62c85a"/>
<path d="M139.97,384.56 C139.97,380.08 147.56,373.36 153.40,372.80 C159.24,372.24 163.33,377.28 163.33,384.00 C163.33,390.72 159.24,395.76 153.40,395.20 C147.56,394.64 139.97,389.04 139.97,384.56 z" fill="#a6da3c"/>
<path d="M144.96,384.36 C144.96,381.45 149.90,377.08 153.69,376.72 C157.49,376.36 160.15,379.63 160.15,384.00 C160.15,388.37 157.49,391.64 153.69,391.28 C149.90,390.92 144.96,387.28 144.96,384.36 z" fill="#dfe33a"/>
<path d="M149.42,384.19 C149.42,382.68 151.99,380.41 153.96,380.22 C155.93,380.03 157.31,381.73 157.31,384.00 C157.31,386.27 155.93,387.97 153.96,387.78 C151.99,387.59 149.42,385.70 149.42,384.19 z" fill="#eeea58"/>
</g></g>
<rect x="186.3" y="361.0" width="46.4" height="45.8" fill="#3f0b5c" stroke="#2c0840" stroke-width="0.6"/>
<clipPath id="cp01"><rect x="186.3" y="361.0" width="46.4" height="45.8"/></clipPath>
<filter id="bf01" x="-50%" y="-50%" width="200%" height="200%"><feGaussianBlur stdDeviation="1.9"/></filter>
<g clip-path="url(#cp01)"><g filter="url(#bf01)">
<path d="M192.10,384.26 C192.10,378.98 201.46,371.06 208.66,370.40 C215.86,369.74 220.90,375.68 220.90,383.60 C220.90,391.52 215.86,397.46 208.66,396.80 C201.46,396.14 192.10,389.54 192.10,384.26 z" fill="#2f6b8e"/>
<path d="M193.75,384.20 C193.75,379.41 202.23,372.24 208.76,371.64 C215.28,371.04 219.85,376.42 219.85,383.60 C219.85,390.78 215.28,396.16 208.76,395.56 C202.23,394.96 193.75,388.98 193.75,384.20 z" fill="#2a9a86"/>
<path d="M195.30,384.14 C195.30,379.82 202.96,373.34 208.85,372.80 C214.74,372.26 218.86,377.12 218.86,383.60 C218.86,390.08 214.74,394.94 208.85,394.40 C202.96,393.86 195.30,388.46 195.30,384.14 z" fill="#62c85a"/>
<path d="M196.57,384.09 C196.57,380.15 203.55,374.25 208.92,373.75 C214.30,373.26 218.06,377.69 218.06,383.60 C218.06,389.51 214.30,393.94 208.92,393.45 C203.55,392.95 196.57,388.03 196.57,384.09 z" fill="#a6da3c"/>
<path d="M201.49,383.91 C201.49,381.44 205.86,377.75 209.21,377.44 C212.57,377.13 214.93,379.90 214.93,383.60 C214.93,387.30 212.57,390.07 209.21,389.76 C205.86,389.45 201.49,386.37 201.49,383.91 z" fill="#dfe33a"/>
<path d="M205.26,383.77 C205.26,382.44 207.62,380.44 209.44,380.27 C211.25,380.11 212.52,381.60 212.52,383.60 C212.52,385.60 211.25,387.09 209.44,386.93 C207.62,386.76 205.26,385.10 205.26,383.77 z" fill="#eeea58"/>
</g></g>
<rect x="242.2" y="361.0" width="46.4" height="45.8" fill="#3f0b5c" stroke="#2c0840" stroke-width="0.6"/>
<clipPath id="cp02"><rect x="242.2" y="361.0" width="46.4" height="45.8"/></clipPath>
<filter id="bf02" x="-50%" y="-50%" width="200%" height="200%"><feGaussianBlur stdDeviation="2.2"/></filter>
<g clip-path="url(#cp02)"><g filter="url(#bf02)">
<path d="M248.60,384.12 C248.60,379.16 257.57,371.72 264.47,371.10 C271.37,370.48 276.20,376.06 276.20,383.50 C276.20,390.94 271.37,396.52 264.47,395.90 C257.57,395.28 248.60,389.08 248.60,384.12 z" fill="#2f6b8e"/>
<path d="M250.63,384.05 C250.63,379.68 258.52,373.13 264.59,372.59 C270.66,372.04 274.91,376.95 274.91,383.50 C274.91,390.05 270.66,394.96 264.59,394.41 C258.52,393.87 250.63,388.41 250.63,384.05 z" fill="#2a9a86"/>
<path d="M252.44,383.98 C252.44,380.15 259.37,374.40 264.70,373.92 C270.03,373.44 273.76,377.75 273.76,383.50 C273.76,389.25 270.03,393.56 264.70,393.08 C259.37,392.60 252.44,387.81 252.44,383.98 z" fill="#62c85a"/>
<path d="M253.87,383.93 C253.87,380.52 260.04,375.40 264.79,374.98 C269.53,374.55 272.85,378.38 272.85,383.50 C272.85,388.62 269.53,392.45 264.79,392.02 C260.04,391.60 253.87,387.34 253.87,383.93 z" fill="#a6da3c"/>
<path d="M258.58,383.75 C258.58,381.73 262.25,378.68 265.07,378.43 C267.89,378.18 269.86,380.46 269.86,383.50 C269.86,386.54 267.89,388.82 265.07,388.57 C262.25,388.32 258.58,385.78 258.58,383.75 z" fill="#dfe33a"/>
<path d="M261.56,383.64 C261.56,382.49 263.64,380.76 265.25,380.62 C266.85,380.47 267.97,381.77 267.97,383.50 C267.97,385.23 266.85,386.53 265.25,386.38 C263.64,386.24 261.56,384.80 261.56,383.64 z" fill="#eeea58"/>
</g></g>
<rect x="298.2" y="361.0" width="46.4" height="45.8" fill="#3f0b5c" stroke="#2c0840" stroke-width="0.6"/>
<clipPath id="cp03"><rect x="298.2" y="361.0" width="46.4" height="45.8"/></clipPath>
<filter id="bf03" x="-50%" y="-50%" width="200%" height="200%"><feGaussianBlur stdDeviation="2.3"/></filter>
<g clip-path="url(#cp03)"><g filter="url(#bf03)">
<path d="M306.60,384.96 C306.60,380.48 314.79,373.76 321.09,373.20 C327.39,372.64 331.80,377.68 331.80,384.40 C331.80,391.12 327.39,396.16 321.09,395.60 C314.79,395.04 306.60,389.44 306.60,384.96 z" fill="#2f6b8e"/>
<path d="M308.85,384.88 C308.85,381.05 315.85,375.31 321.23,374.84 C326.61,374.36 330.38,378.66 330.38,384.40 C330.38,390.14 326.61,394.44 321.23,393.96 C315.85,393.49 308.85,388.70 308.85,384.88 z" fill="#2a9a86"/>
<path d="M310.82,384.81 C310.82,381.55 316.77,376.66 321.35,376.26 C325.93,375.85 329.14,379.51 329.14,384.40 C329.14,389.29 325.93,392.95 321.35,392.54 C316.77,392.14 310.82,388.06 310.82,384.81 z" fill="#62c85a"/>
<path d="M312.33,384.75 C312.33,381.93 317.48,377.71 321.44,377.36 C325.41,377.00 328.18,380.17 328.18,384.40 C328.18,388.63 325.41,391.80 321.44,391.44 C317.48,391.09 312.33,387.57 312.33,384.75 z" fill="#a6da3c"/>
<path d="M316.62,384.60 C316.62,383.02 319.50,380.67 321.71,380.47 C323.92,380.27 325.46,382.04 325.46,384.40 C325.46,386.76 323.92,388.53 321.71,388.33 C319.50,388.13 316.62,386.17 316.62,384.60 z" fill="#dfe33a"/>
<path d="M318.75,384.52 C318.75,383.57 320.50,382.13 321.84,382.01 C323.18,381.90 324.12,382.97 324.12,384.40 C324.12,385.83 323.18,386.90 321.84,386.79 C320.50,386.67 318.75,385.47 318.75,384.52 z" fill="#eeea58"/>
</g></g>
<rect x="130.7" y="420.2" width="46.4" height="42.5" fill="#3f0b5c" stroke="#2c0840" stroke-width="0.6"/>
<clipPath id="cp10"><rect x="130.7" y="420.2" width="46.4" height="42.5"/></clipPath>
<filter id="bf10" x="-50%" y="-50%" width="200%" height="200%"><feGaussianBlur stdDeviation="1.9"/></filter>
<g clip-path="url(#cp10)"><g filter="url(#bf10)">
<ellipse cx="138.6" cy="444.2" rx="10.8" ry="10.8" fill="#3fae74"/>
<ellipse cx="140.4" cy="444.2" rx="8.1" ry="8.5" fill="#7ccf4e"/>
<path d="M132.10,444.44 C132.10,438.52 142.76,429.64 150.96,428.90 C159.16,428.16 164.90,434.82 164.90,443.70 C164.90,452.58 159.16,459.24 150.96,458.50 C142.76,457.76 132.10,450.36 132.10,444.44 z" fill="#2f6b8e"/>
<path d="M134.40,444.35 C134.40,439.12 143.83,431.26 151.09,430.60 C158.35,429.95 163.43,435.84 163.43,443.70 C163.43,451.56 158.35,457.45 151.09,456.80 C143.83,456.14 134.40,449.59 134.40,444.35 z" fill="#2a9a86"/>
<path d="M136.60,444.27 C136.60,439.69 144.86,432.80 151.22,432.23 C157.57,431.66 162.02,436.82 162.02,443.70 C162.02,450.58 157.57,455.74 151.22,455.17 C144.86,454.60 136.60,448.86 136.60,444.27 z" fill="#4fbf62"/>
<path d="M138.64,444.20 C138.64,440.21 145.81,434.24 151.33,433.74 C156.85,433.24 160.71,437.72 160.71,443.70 C160.71,449.68 156.85,454.16 151.33,453.66 C145.81,453.16 138.64,448.18 138.64,444.20 z" fill="#7ccf4e"/>
<path d="M142.50,444.06 C142.50,441.21 147.62,436.95 151.55,436.60 C155.49,436.24 158.24,439.44 158.24,443.70 C158.24,447.96 155.49,451.16 151.55,450.80 C147.62,450.45 142.50,446.90 142.50,444.06 z" fill="#acd93c"/>
<path d="M147.90,443.86 C147.90,442.61 150.14,440.75 151.86,440.59 C153.58,440.44 154.79,441.84 154.79,443.70 C154.79,445.56 153.58,446.96 151.86,446.81 C150.14,446.65 147.90,445.10 147.90,443.86 z" fill="#d4e244"/>
</g></g>
<rect x="186.3" y="420.2" width="46.4" height="42.5" fill="#3f0b5c" stroke="#2c0840" stroke-width="0.6"/>
<clipPath id="cp11"><rect x="186.3" y="420.2" width="46.4" height="42.5"/></clipPath>
<filter id="bf11" x="-50%" y="-50%" width="200%" height="200%"><feGaussianBlur stdDeviation="2.0"/></filter>
<g clip-path="url(#cp11)"><g filter="url(#bf11)">
<ellipse cx="194.9" cy="443.8" rx="10.4" ry="10.3" fill="#2f8a8a"/>
<ellipse cx="196.7" cy="443.8" rx="7.8" ry="8.1" fill="#3fae74"/>
<path d="M188.70,444.00 C188.70,438.40 198.97,430.00 206.87,429.30 C214.77,428.60 220.30,434.90 220.30,443.30 C220.30,451.70 214.77,458.00 206.87,457.30 C198.97,456.60 188.70,449.60 188.70,444.00 z" fill="#2f6b8e"/>
<path d="M191.21,443.91 C191.21,439.04 200.14,431.73 207.01,431.12 C213.89,430.51 218.70,435.99 218.70,443.30 C218.70,450.61 213.89,456.09 207.01,455.48 C200.14,454.87 191.21,448.78 191.21,443.91 z" fill="#2a9a86"/>
<path d="M193.52,443.82 C193.52,439.62 201.22,433.32 207.15,432.80 C213.07,432.28 217.22,437.00 217.22,443.30 C217.22,449.60 213.07,454.32 207.15,453.80 C201.22,453.28 193.52,448.03 193.52,443.82 z" fill="#4fbf62"/>
<path d="M195.53,443.75 C195.53,440.13 202.16,434.71 207.26,434.26 C212.37,433.80 215.94,437.87 215.94,443.30 C215.94,448.73 212.37,452.80 207.26,452.34 C202.16,451.89 195.53,447.37 195.53,443.75 z" fill="#7ccf4e"/>
<path d="M199.11,443.62 C199.11,441.05 203.84,437.18 207.47,436.86 C211.10,436.54 213.65,439.44 213.65,443.30 C213.65,447.16 211.10,450.06 207.47,449.74 C203.84,449.42 199.11,446.20 199.11,443.62 z" fill="#acd93c"/>
<path d="M204.12,443.44 C204.12,442.32 206.18,440.64 207.76,440.50 C209.34,440.36 210.44,441.62 210.44,443.30 C210.44,444.98 209.34,446.24 207.76,446.10 C206.18,445.96 204.12,444.56 204.12,443.44 z" fill="#d4e244"/>
</g></g>
<rect x="242.2" y="420.2" width="46.4" height="42.5" fill="#3f0b5c" stroke="#2c0840" stroke-width="0.6"/>
<clipPath id="cp12"><rect x="242.2" y="420.2" width="46.4" height="42.5"/></clipPath>
<filter id="bf12" x="-50%" y="-50%" width="200%" height="200%"><feGaussianBlur stdDeviation="2.2"/></filter>
<g clip-path="url(#cp12)"><g filter="url(#bf12)">
<ellipse cx="250.7" cy="443.5" rx="10.0" ry="9.4" fill="#2f8a8a"/>
<ellipse cx="252.3" cy="443.5" rx="7.5" ry="7.4" fill="#3fae74"/>
<path d="M244.80,443.63 C244.80,438.59 254.55,431.03 262.05,430.40 C269.55,429.77 274.80,435.44 274.80,443.00 C274.80,450.56 269.55,456.23 262.05,455.60 C254.55,454.97 244.80,448.67 244.80,443.63 z" fill="#2f6b8e"/>
<path d="M247.46,443.54 C247.46,439.23 255.79,432.77 262.21,432.23 C268.62,431.69 273.11,436.54 273.11,443.00 C273.11,449.46 268.62,454.31 262.21,453.77 C255.79,453.23 247.46,447.85 247.46,443.54 z" fill="#2a9a86"/>
<path d="M249.84,443.46 C249.84,439.80 256.91,434.32 262.34,433.87 C267.78,433.41 271.59,437.52 271.59,443.00 C271.59,448.48 267.78,452.59 262.34,452.13 C256.91,451.68 249.84,447.11 249.84,443.46 z" fill="#4fbf62"/>
<path d="M251.78,443.39 C251.78,440.27 257.82,435.59 262.46,435.20 C267.10,434.81 270.35,438.32 270.35,443.00 C270.35,447.68 267.10,451.19 262.46,450.80 C257.82,450.41 251.78,446.51 251.78,443.39 z" fill="#7ccf4e"/>
<path d="M255.06,443.28 C255.06,441.06 259.35,437.73 262.65,437.46 C265.95,437.18 268.26,439.67 268.26,443.00 C268.26,446.33 265.95,448.82 262.65,448.54 C259.35,448.27 255.06,445.49 255.06,443.28 z" fill="#acd93c"/>
<path d="M259.64,443.12 C259.64,442.16 261.49,440.73 262.92,440.61 C264.34,440.49 265.34,441.56 265.34,443.00 C265.34,444.44 264.34,445.51 262.92,445.39 C261.49,445.27 259.64,444.08 259.64,443.12 z" fill="#d4e244"/>
</g></g>
<rect x="298.2" y="420.2" width="46.4" height="42.5" fill="#3f0b5c" stroke="#2c0840" stroke-width="0.6"/>
<clipPath id="cp13"><rect x="298.2" y="420.2" width="46.4" height="42.5"/></clipPath>
<filter id="bf13" x="-50%" y="-50%" width="200%" height="200%"><feGaussianBlur stdDeviation="2.3"/></filter>
<g clip-path="url(#cp13)"><g filter="url(#bf13)">
<ellipse cx="307.6" cy="444.2" rx="9.4" ry="8.7" fill="#2f8a8a"/>
<ellipse cx="309.2" cy="444.2" rx="7.0" ry="6.9" fill="#3fae74"/>
<path d="M302.20,444.28 C302.20,439.64 311.30,432.68 318.30,432.10 C325.30,431.52 330.20,436.74 330.20,443.70 C330.20,450.66 325.30,455.88 318.30,455.30 C311.30,454.72 302.20,448.92 302.20,444.28 z" fill="#2f6b8e"/>
<path d="M304.94,444.19 C304.94,440.29 312.58,434.44 318.46,433.96 C324.34,433.47 328.46,437.85 328.46,443.70 C328.46,449.55 324.34,453.93 318.46,453.44 C312.58,452.96 304.94,448.08 304.94,444.19 z" fill="#2a9a86"/>
<path d="M307.34,444.11 C307.34,440.86 313.71,435.99 318.61,435.58 C323.51,435.17 326.94,438.83 326.94,443.70 C326.94,448.57 323.51,452.23 318.61,451.82 C313.71,451.41 307.34,447.35 307.34,444.11 z" fill="#4fbf62"/>
<path d="M309.18,444.04 C309.18,441.30 314.57,437.18 318.72,436.83 C322.86,436.49 325.76,439.58 325.76,443.70 C325.76,447.82 322.86,450.91 318.72,450.57 C314.57,450.22 309.18,446.79 309.18,444.04 z" fill="#7ccf4e"/>
<path d="M312.13,443.94 C312.13,441.99 315.95,439.07 318.89,438.83 C321.83,438.58 323.89,440.78 323.89,443.70 C323.89,446.62 321.83,448.82 318.89,448.57 C315.95,448.33 312.13,445.89 312.13,443.94 z" fill="#acd93c"/>
<path d="M316.24,443.80 C316.24,442.97 317.88,441.72 319.14,441.61 C320.40,441.51 321.28,442.45 321.28,443.70 C321.28,444.95 320.40,445.89 319.14,445.79 C317.88,445.68 316.24,444.64 316.24,443.80 z" fill="#d4e244"/>
</g></g>
<text x="97" y="384.2" font-size="9.3" fill="#62bd3e" stroke="#62bd3e" stroke-width="0.12" font-weight="bold" font-style="normal" text-anchor="middle" textLength="50.4" lengthAdjust="spacingAndGlyphs" >Geom-WAE</text>
<text x="97" y="395" font-size="9.3" fill="#62bd3e" stroke="#62bd3e" stroke-width="0.12" font-weight="bold" font-style="normal" text-anchor="middle" textLength="49" lengthAdjust="spacingAndGlyphs" >(Euclidean)</text>
<text x="97" y="438.9" font-size="9.3" fill="#62bd3e" stroke="#62bd3e" stroke-width="0.12" font-weight="bold" font-style="normal" text-anchor="middle" textLength="50.4" lengthAdjust="spacingAndGlyphs" >Geom-WAE</text>
<text x="97.3" y="449.8" font-size="9.3" fill="#62bd3e" stroke="#62bd3e" stroke-width="0.12" font-weight="bold" font-style="normal" text-anchor="middle" textLength="44" lengthAdjust="spacingAndGlyphs" >(Poincare)</text>
<text x="127.3" y="477.7" font-size="12.1" fill="#111" stroke="#111" stroke-width="0.3" font-weight="normal" font-style="normal" text-anchor="start" textLength="224.7" lengthAdjust="spacingAndGlyphs" >Synthesized Images with the Highest Eval</text>
<text x="468.8" y="248.6" font-size="12" fill="#111" stroke="#111" stroke-width="0.3" font-weight="normal" font-style="normal" text-anchor="start" textLength="181.6" lengthAdjust="spacingAndGlyphs" >Target function: Image Brightness</text>
<line x1="438.2" y1="261.5" x2="438.2" y2="448.6" stroke="#e6e6e6" stroke-width="0.8" stroke-dasharray="1.2,2.2"/>
<line x1="484.8" y1="261.5" x2="484.8" y2="448.6" stroke="#e6e6e6" stroke-width="0.8" stroke-dasharray="1.2,2.2"/>
<line x1="531.5" y1="261.5" x2="531.5" y2="448.6" stroke="#e6e6e6" stroke-width="0.8" stroke-dasharray="1.2,2.2"/>
<line x1="578.1" y1="261.5" x2="578.1" y2="448.6" stroke="#e6e6e6" stroke-width="0.8" stroke-dasharray="1.2,2.2"/>
<line x1="624.8" y1="261.5" x2="624.8" y2="448.6" stroke="#e6e6e6" stroke-width="0.8" stroke-dasharray="1.2,2.2"/>
<line x1="671.5" y1="261.5" x2="671.5" y2="448.6" stroke="#e6e6e6" stroke-width="0.8" stroke-dasharray="1.2,2.2"/>
<line x1="426.5" y1="430.5" x2="683" y2="430.5" stroke="#e6e6e6" stroke-width="0.8" stroke-dasharray="1.2,2.2"/>
<line x1="426.5" y1="406.5" x2="683" y2="406.5" stroke="#e6e6e6" stroke-width="0.8" stroke-dasharray="1.2,2.2"/>
<line x1="426.5" y1="382.4" x2="683" y2="382.4" stroke="#e6e6e6" stroke-width="0.8" stroke-dasharray="1.2,2.2"/>
<line x1="426.5" y1="358.4" x2="683" y2="358.4" stroke="#e6e6e6" stroke-width="0.8" stroke-dasharray="1.2,2.2"/>
<line x1="426.5" y1="334.4" x2="683" y2="334.4" stroke="#e6e6e6" stroke-width="0.8" stroke-dasharray="1.2,2.2"/>
<line x1="426.5" y1="310.4" x2="683" y2="310.4" stroke="#e6e6e6" stroke-width="0.8" stroke-dasharray="1.2,2.2"/>
<line x1="426.5" y1="286.3" x2="683" y2="286.3" stroke="#e6e6e6" stroke-width="0.8" stroke-dasharray="1.2,2.2"/>
<line x1="426.5" y1="262.3" x2="683" y2="262.3" stroke="#e6e6e6" stroke-width="0.8" stroke-dasharray="1.2,2.2"/>
<polygon points="438.2,406.4 447.5,344.6 456.9,343.6 466.2,342.6 475.5,340.7 484.8,335.4 494.2,327.7 503.5,320.4 512.8,313.7 522.2,308.4 531.5,304.5 540.8,299.2 550.2,294.5 559.5,290.5 568.8,287.2 578.1,286.4 587.5,285.8 596.8,284.7 606.1,283.7 615.5,282.3 624.8,281.3 634.1,279.9 643.5,278.4 652.8,277.0 662.1,276.0 671.5,274.6 671.5,290.1 662.1,291.4 652.8,293.4 643.5,294.8 634.1,296.3 624.8,298.2 615.5,301.8 606.1,302.1 596.8,303.0 587.5,305.9 578.1,310.8 568.8,316.1 559.5,321.5 550.2,328.2 540.8,333.9 531.5,345.5 522.2,353.3 512.8,369.7 503.5,383.7 494.2,396.7 484.8,410.3 475.5,420.4 466.2,427.2 456.9,433.9 447.5,440.7 438.2,406.4" fill="#b89088" fill-opacity="0.22"/>
<polygon points="438.2,406.4 447.5,333.9 456.9,316.6 466.2,307.9 475.5,302.1 484.8,293.4 494.2,286.6 503.5,279.9 512.8,276.0 522.2,272.1 531.5,269.8 540.8,271.6 550.2,272.9 550.2,273.3 540.8,278.9 531.5,288.5 522.2,298.2 512.8,300.1 503.5,306.9 494.2,313.7 484.8,321.4 475.5,329.1 466.2,336.8 456.9,344.6 447.5,353.3 438.2,406.4" fill="#9acc90" fill-opacity="0.22"/>
<polyline points="438.2,406.4 447.5,392.5 456.9,389.0 466.2,384.7 475.5,380.3 484.8,371.6 494.2,360.0 503.5,349.4 512.8,340.7 522.2,331.1 531.5,322.6 540.8,315.6 550.2,310.1 559.5,305.0 568.8,299.7 578.1,296.3 587.5,294.3 596.8,293.6 606.1,292.8 615.5,291.4 624.8,289.9 634.1,288.5 643.5,286.6 652.8,284.2 662.1,282.9 671.5,282.0" fill="none" stroke="#8e3a3e" stroke-width="1.3"/>
<polyline points="438.2,406.4 447.5,344.6 456.9,332.0 466.2,319.7 475.5,314.7 484.8,305.9 494.2,299.2 503.5,292.4 512.8,287.6 522.2,283.2 531.5,279.3 540.8,276.0 550.2,273.1 559.5,272.5 568.8,272.3 578.1,272.1 587.5,272.1 596.8,272.0 606.1,271.4 615.5,271.4 624.8,271.4 634.1,271.3 643.5,271.2 652.8,270.8 662.1,270.4 671.5,270.4" fill="none" stroke="#3d8a35" stroke-width="1.3"/>
<rect x="426.5" y="261.5" width="256.5" height="187.1" fill="none" stroke="#666" stroke-width="1.2"/>
<line x1="423.8" y1="430.5" x2="426.5" y2="430.5" stroke="#666" stroke-width="1"/>
<text x="421.2" y="434.4925" font-size="9.5" fill="#222" stroke="#222" stroke-width="0.2" font-weight="normal" font-style="normal" text-anchor="end" textLength="18.9" lengthAdjust="spacingAndGlyphs" >5.00</text>
<line x1="423.8" y1="406.5" x2="426.5" y2="406.5" stroke="#666" stroke-width="1"/>
<text x="421.2" y="410.46500000000003" font-size="9.5" fill="#222" stroke="#222" stroke-width="0.2" font-weight="normal" font-style="normal" text-anchor="end" textLength="18.9" lengthAdjust="spacingAndGlyphs" >5.25</text>
<line x1="423.8" y1="382.4" x2="426.5" y2="382.4" stroke="#666" stroke-width="1"/>
<text x="421.2" y="386.4375" font-size="9.5" fill="#222" stroke="#222" stroke-width="0.2" font-weight="normal" font-style="normal" text-anchor="end" textLength="18.9" lengthAdjust="spacingAndGlyphs" >5.50</text>
<line x1="423.8" y1="358.4" x2="426.5" y2="358.4" stroke="#666" stroke-width="1"/>
<text x="421.2" y="362.41" font-size="9.5" fill="#222" stroke="#222" stroke-width="0.2" font-weight="normal" font-style="normal" text-anchor="end" textLength="18.9" lengthAdjust="spacingAndGlyphs" >5.75</text>
<line x1="423.8" y1="334.4" x2="426.5" y2="334.4" stroke="#666" stroke-width="1"/>
<text x="421.2" y="338.3825" font-size="9.5" fill="#222" stroke="#222" stroke-width="0.2" font-weight="normal" font-style="normal" text-anchor="end" textLength="18.9" lengthAdjust="spacingAndGlyphs" >6.00</text>
<line x1="423.8" y1="310.4" x2="426.5" y2="310.4" stroke="#666" stroke-width="1"/>
<text x="421.2" y="314.355" font-size="9.5" fill="#222" stroke="#222" stroke-width="0.2" font-weight="normal" font-style="normal" text-anchor="end" textLength="18.9" lengthAdjust="spacingAndGlyphs" >6.25</text>
<line x1="423.8" y1="286.3" x2="426.5" y2="286.3" stroke="#666" stroke-width="1"/>
<text x="421.2" y="290.3275" font-size="9.5" fill="#222" stroke="#222" stroke-width="0.2" font-weight="normal" font-style="normal" text-anchor="end" textLength="18.9" lengthAdjust="spacingAndGlyphs" >6.50</text>
<line x1="423.8" y1="262.3" x2="426.5" y2="262.3" stroke="#666" stroke-width="1"/>
<text x="421.2" y="266.3" font-size="9.5" fill="#222" stroke="#222" stroke-width="0.2" font-weight="normal" font-style="normal" text-anchor="end" textLength="18.9" lengthAdjust="spacingAndGlyphs" >6.75</text>
<line x1="438.2" y1="448.6" x2="438.2" y2="451.6" stroke="#666" stroke-width="1"/>
<line x1="484.8" y1="448.6" x2="484.8" y2="451.6" stroke="#666" stroke-width="1"/>
<line x1="531.5" y1="448.6" x2="531.5" y2="451.6" stroke="#666" stroke-width="1"/>
<line x1="578.1" y1="448.6" x2="578.1" y2="451.6" stroke="#666" stroke-width="1"/>
<line x1="624.8" y1="448.6" x2="624.8" y2="451.6" stroke="#666" stroke-width="1"/>
<line x1="671.5" y1="448.6" x2="671.5" y2="451.6" stroke="#666" stroke-width="1"/>
<text x="438.2" y="459.9" font-size="9.5" fill="#222" stroke="#222" stroke-width="0.2" font-weight="normal" font-style="normal" text-anchor="middle" >5</text>
<text x="484.84999999999997" y="459.9" font-size="9.5" fill="#222" stroke="#222" stroke-width="0.2" font-weight="normal" font-style="normal" text-anchor="middle" >10</text>
<text x="624.8" y="459.9" font-size="9.5" fill="#222" stroke="#222" stroke-width="0.2" font-weight="normal" font-style="normal" text-anchor="middle" >25</text>
<text x="671.45" y="459.9" font-size="9.5" fill="#222" stroke="#222" stroke-width="0.2" font-weight="normal" font-style="normal" text-anchor="middle" >30</text>
<text x="0" y="0" font-size="11" fill="#111" textLength="47" lengthAdjust="spacingAndGlyphs" stroke="#111" stroke-width="0.2" transform="translate(397,378) rotate(-90)">Best FVal</text>
<text x="517.6" y="471.2" font-size="11.8" fill="#111" stroke="#111" stroke-width="0.3" font-weight="normal" font-style="normal" text-anchor="start" textLength="83.6" lengthAdjust="spacingAndGlyphs" >Sample Budget</text>
<rect x="558.3" y="368.3" width="122.2" height="74.5" fill="#fff" stroke="#dcdcdc" stroke-width="1"/>
<line x1="563.4" y1="386" x2="591.8" y2="386" stroke="#8e3a3e" stroke-width="1.5"/>
<line x1="563.4" y1="415.2" x2="591.8" y2="415.2" stroke="#3d8a35" stroke-width="1.5"/>
<text x="601.8" y="390.5" font-size="10" fill="#62bd3e" stroke="#62bd3e" stroke-width="0.12" font-weight="bold" font-style="normal" text-anchor="start" textLength="56.2" lengthAdjust="spacingAndGlyphs" >Geom-WAE</text>
<text x="606.8" y="403" font-size="10" fill="#62bd3e" stroke="#62bd3e" stroke-width="0.12" font-weight="bold" font-style="normal" text-anchor="start" textLength="53.6" lengthAdjust="spacingAndGlyphs" >(Euclidean)</text>
<text x="606.2" y="415.6" font-size="10" fill="#62bd3e" stroke="#62bd3e" stroke-width="0.12" font-weight="bold" font-style="normal" text-anchor="start" textLength="55.8" lengthAdjust="spacingAndGlyphs" >Geom-WAE</text>
<text x="609.5" y="428" font-size="10" fill="#62bd3e" stroke="#62bd3e" stroke-width="0.12" font-weight="bold" font-style="normal" text-anchor="start" textLength="48.5" lengthAdjust="spacingAndGlyphs" >(Poincare)</text>
</svg></body></html>
